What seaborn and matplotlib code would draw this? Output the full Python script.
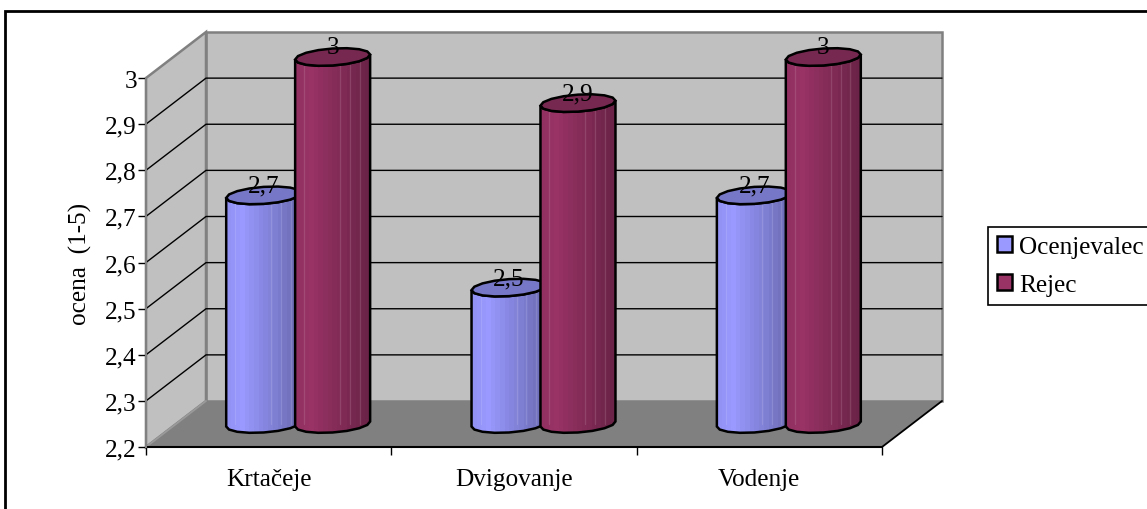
import numpy as np
import pandas as pd
import seaborn as sns
import matplotlib
matplotlib.use("Agg")
from matplotlib import pyplot as plt
from matplotlib.colors import to_rgb
from matplotlib.patches import Polygon, Patch, Rectangle
from matplotlib.path import Path
from matplotlib.transforms import ScaledTranslation

categories = ["Krtačeje", "Dvigovanje", "Vodenje"]
ocenjevalec = [2.7, 2.5, 2.7]
rejec = [3.0, 2.9, 3.0]
series_names = ["Ocenjevalec", "Rejec"]
y_ticks = [2.2, 2.3, 2.4, 2.5, 2.6, 2.7, 2.8, 2.9, 3.0]

W, H = 1147, 510
BLUE, RED = "#9999FF", "#993366"

sns.set_style("white")
plt.rcParams["font.family"] = ["Liberation Serif", "DejaVu Serif"]
plt.rcParams["font.size"] = 18.2
plt.rcParams["text.color"] = "black"
plt.rcParams["axes.labelcolor"] = "black"
plt.rcParams["xtick.color"] = "black"
plt.rcParams["ytick.color"] = "black"

df = pd.DataFrame({
    "kategorija": categories * 2,
    "serija": [series_names[0]] * 3 + [series_names[1]] * 3,
    "ocena": ocenjevalec + rejec,
})

fig = plt.figure(figsize=(W / 100, H / 100), dpi=100)
ax = fig.add_axes([146 / W, (H - 448) / H, 736 / W, 369 / H])
ax.patch.set_visible(False)

sns.barplot(data=df, x="kategorija", y="ocena", hue="serija", hue_order=series_names,
            palette=[BLUE, RED], saturation=1, width=0.562, gap=0, legend=False,
            errorbar=None, ax=ax)
bars = sorted(ax.patches, key=lambda p: p.get_x())
ax.set_xlim(-0.5, 2.5)
ax.set_ylim(2.2, 3.0)

# pixel sizes in data units
ux = 3 / 736
uy = 0.8 / 369
depth_x, depth_y = 60 * ux, 46 * uy

# the bars stand half way in the depth of the box
mid = ax.transData + ScaledTranslation(0.295, 0.23, fig.dpi_scale_trans)


def wall(points, color, zorder=0.2, edge="#808080"):
    ax.add_patch(Polygon(points, closed=True, facecolor=color, edgecolor=edge, lw=1.8,
                         clip_on=False, zorder=zorder))


x0, x1 = -0.5, 2.5
y0, y1 = 2.2, 3.0
wall([(x0 + depth_x, y0 + depth_y), (x1 + depth_x, y0 + depth_y),
      (x1 + depth_x, y1 + depth_y), (x0 + depth_x, y1 + depth_y)], "#C0C0C0")
wall([(x0, y0), (x0 + depth_x, y0 + depth_y), (x0 + depth_x, y1 + depth_y), (x0, y1)], "#C0C0C0")
wall([(x0, y0), (x1, y0), (x1 + depth_x, y0 + depth_y), (x0 + depth_x, y0 + depth_y)],
     "#808080", zorder=0.4, edge="none")
ax.plot([x1, x1 + depth_x], [y0, y0 + depth_y], color="black", lw=1.3, clip_on=False, zorder=0.5)
ax.plot([x0, x0 + depth_x], [y0, y0 + depth_y], color="#9a9a9a", lw=1.3, clip_on=False, zorder=0.5)

for v in y_ticks[1:-1]:
    ax.plot([x0, x0 + depth_x, x1 + depth_x], [v, v + depth_y, v + depth_y],
            color="black", lw=1.0, clip_on=False, zorder=0.3)


def band_colors(color, n=16):
    # stepped shading from left to right, like the old office gradient
    rgb = np.array(to_rgb(color))
    shade = np.interp(np.linspace(0, 1, n), [0, 0.2, 1], [0.96, 1.0, 0.7])
    return np.clip(rgb[None, None, :] * shade[None, :, None], 0, 1)


def draw_cylinder(cx, value, color, z):
    a = 37.5 * ux
    b = 8.5 * uy
    tilt = 2.5 * uy
    # the top face sits about 2 px lower than the plain offset gives
    top_y = value - 2 * uy
    t_low = np.linspace(np.pi, 2 * np.pi, 9)
    xs = cx + a * np.cos(t_low)
    low = b * np.sin(t_low) + tilt * np.cos(t_low)
    body_x = np.r_[xs, xs[::-1]]
    body_y = np.r_[y0 + low, top_y + low[::-1]]
    path = Path(np.c_[body_x, body_y])

    im = ax.imshow(band_colors(color), extent=(cx - a, cx + a, y0 - 20 * uy, top_y + 20 * uy),
                   aspect="auto", interpolation="nearest", zorder=z)
    im.set_transform(mid)
    im.set_clip_path(path, mid)
    im.set_clip_box(fig.bbox)

    # faint lighter streaks between the shading bands
    for f in [0.12, 0.6, 0.73, 0.86]:
        xf = cx - a + 2 * a * f
        ax.plot([xf, xf], [y0, top_y], color="white", alpha=0.12, lw=0.9, transform=mid,
                clip_on=False, zorder=z + 0.05)

    ax.add_patch(Polygon(np.c_[body_x, body_y], closed=True, fill=False, edgecolor="black", lw=1.8,
                         transform=mid, clip_on=False, zorder=z + 0.1))
    t = np.linspace(0, 2 * np.pi, 17)[:-1]
    top = np.c_[cx + a * np.cos(t), top_y + b * np.sin(t) + tilt * np.cos(t)]
    ax.add_patch(Polygon(top, closed=True, facecolor=np.array(to_rgb(color)) * 0.78,
                         edgecolor="black", lw=1.8, transform=mid, clip_on=False, zorder=z + 0.2))


for i, bar in enumerate(bars):
    bar.set_visible(False)
    cx = bar.get_x() + bar.get_width() / 2
    val = bar.get_height()
    col = BLUE if i % 2 == 0 else RED
    draw_cylinder(cx, val, col, 3 + i * 0.5)
    ax.annotate(f"{val:g}".replace(".", ","), (cx, val), xycoords=mid, xytext=(0, 5.5),
                textcoords="offset points", ha="center", va="center", zorder=10,
                annotation_clip=False)

ax.set_xlim(-0.5, 2.5)
ax.set_ylim(2.2, 3.0)

for side in ["top", "right"]:
    ax.spines[side].set_visible(False)
ax.spines["left"].set_color("#808080")
ax.spines["left"].set_linewidth(1.5)
ax.spines["bottom"].set_color("black")
ax.spines["bottom"].set_linewidth(1.5)
ax.spines["bottom"].set_zorder(2)

ax.set_yticks(y_ticks, labels=[f"{v:g}".replace(".", ",") for v in y_ticks])
ax.set_xticks([-0.5, 0.5, 1.5, 2.5], labels=["", "", "", ""])
ax.set_xticks([0, 1, 2], labels=categories, minor=True)
ax.tick_params(axis="both", which="major", length=5.5, width=1, color="black", left=True, bottom=True, pad=1)
ax.tick_params(axis="x", which="minor", length=0, pad=15)
ax.set_xlabel("")
ax.set_ylabel("ocena  (1-5)")
ax.yaxis.set_label_coords(-54 / 736, 0.5)

handles = [Patch(facecolor=BLUE, edgecolor="black", lw=1.8), Patch(facecolor=RED, edgecolor="black", lw=1.8)]
leg = fig.legend(handles, series_names, loc="lower left", bbox_to_anchor=(988 / W, (H - 306) / H),
                 frameon=True, fancybox=False, framealpha=1, edgecolor="black", borderaxespad=0,
                 handlelength=0.6, handleheight=0.6, handletextpad=0.28, labelspacing=0.62,
                 borderpad=0.36)
leg.get_frame().set_linewidth(1.2)

# outer chart frame
fig.add_artist(Rectangle((5 / W, -5 / H), 1.1, (H - 12 + 5) / H, transform=fig.transFigure,
                         fill=False, edgecolor="black", lw=2, zorder=-1))

fig.savefig("out.png", dpi=100)
